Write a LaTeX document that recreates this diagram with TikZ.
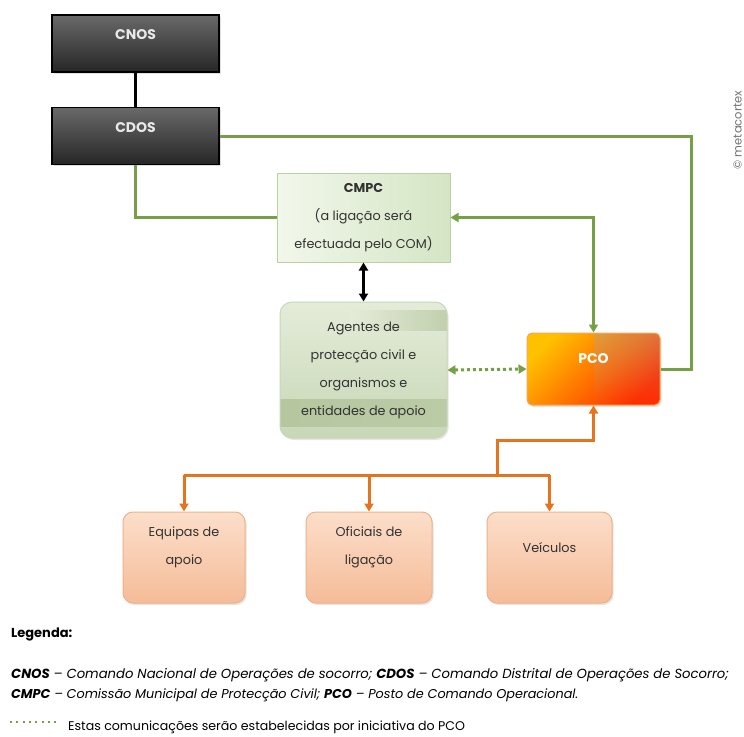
\documentclass[tikz,border=0pt]{standalone}
\usepackage{fontspec}
\setmainfont{Poppins}
\usetikzlibrary{arrows.meta,shadows,calc,fadings}
\definecolor{gline}{RGB}{118,160,70}
\definecolor{oline}{RGB}{230,115,30}
\definecolor{dtop}{RGB}{105,105,105}
\definecolor{dbot}{RGB}{38,38,38}
\definecolor{cmpcl}{RGB}{242,247,235}
\definecolor{cmpcr}{RGB}{212,229,196}
\definecolor{cmpcb}{RGB}{185,210,160}
\definecolor{agtop}{RGB}{228,236,217}
\definecolor{agbot}{RGB}{200,215,182}
\definecolor{agbd}{RGB}{200,215,185}
\definecolor{agband}{RGB}{170,188,145}
\definecolor{pcoa}{RGB}{255,192,0}
\definecolor{pcob}{RGB}{255,45,0}
\definecolor{pcobd}{RGB}{245,170,90}
\definecolor{saltop}{RGB}{252,222,202}
\definecolor{salbot}{RGB}{245,188,152}
\definecolor{salbd}{RGB}{236,178,138}
\definecolor{txt}{RGB}{50,50,50}
\definecolor{ltxt}{RGB}{232,232,232}
\tikzset{
  darkbox/.style={draw=black, line width=1.2pt, top color=dtop, bottom color=dbot,
    minimum width=167pt, minimum height=57pt,
    drop shadow={shadow xshift=1.5pt, shadow yshift=-1.5pt, opacity=0.25}},
  darklbl/.style={text=ltxt, font=\fontsize{14}{16}\selectfont\bfseries},
  cmpcbox/.style={draw=cmpcb, line width=1pt, left color=cmpcl, right color=cmpcr,
    minimum width=173pt, minimum height=89pt},
  agbox/.style={draw=agbd, line width=1pt, top color=agtop, bottom color=agbot,
    rounded corners=12pt, minimum width=167pt, minimum height=136pt,
    drop shadow={shadow xshift=1.5pt, shadow yshift=-2pt, opacity=0.2},
    path picture={
      \shade[sharp corners, left color=agband!60!agbot, right color=agband!45!agbot]
        ($(path picture bounding box.north west)+(0,97)$) rectangle
        ($(path picture bounding box.north east)+(0,124)$);
      \shade[sharp corners, left color=agtop, right color=agband!60!agtop]
        ($(path picture bounding box.north west)+(70,8)$) rectangle
        ($(path picture bounding box.north east)+(0,28)$);
    }},
  pcobox/.style={draw=pcobd, line width=1pt, top color=pcoa, bottom color=pcob, shading angle=45,
    rounded corners=5pt, minimum width=133pt, minimum height=72pt,
    drop shadow={shadow xshift=1.5pt, shadow yshift=-2pt, opacity=0.2},
    path picture={
      \fill[sharp corners, gray!70, opacity=0.35, path fading=south]
        (path picture bounding box.north) rectangle (path picture bounding box.south east);
    }},
  salbox/.style={draw=salbd, line width=1pt, top color=saltop, bottom color=salbot,
    rounded corners=10pt, minimum height=91pt,
    drop shadow={shadow xshift=1.5pt, shadow yshift=-2pt, opacity=0.2}},
  boxtxt/.style={text=txt, align=center, font=\fontsize{12.8}{28}\selectfont},
  gconn/.style={draw=gline, line width=3pt},
  oconn/.style={draw=oline, line width=3pt},
  kconn/.style={draw=black, line width=3pt},
  tip/.style={-{Triangle[length=8pt,width=9pt]}},
  dtip/.style={{Triangle[length=8pt,width=9pt]}-{Triangle[length=8pt,width=9pt]}},
  legtxt/.style={text=black, anchor=base west, inner sep=0pt},
}
\begin{document}
\begin{tikzpicture}[x=1pt,y=-1pt]
\useasboundingbox (0,0) rectangle (744,736);
\fill[white] (0,0) rectangle (744,736);

% boxes
\node[darkbox, label={[darklbl, yshift=8.5pt]center:CNOS}] (cnos) at (135.5,43.5) {};
\node[darkbox, label={[darklbl, yshift=8.5pt]center:CDOS}] (cdos) at (135.5,136) {};
\node[cmpcbox, boxtxt] (cmpc) at (363.5,217.5) {\textbf{CMPC}\\(a ligação será\\efectuada pelo COM)};
\node[agbox, boxtxt] (ag) at (363.5,370) {Agentes de\\protecção civil e\\organismos e\\entidades de apoio};
\node[pcobox, label={[darklbl, text=white, yshift=10pt]center:PCO}] (pco) at (593.5,369) {};
\node[salbox, minimum width=122pt, label={[boxtxt, yshift=10pt]center:Equipas de\\apoio}] (eq) at (184,557.5) {};
\node[salbox, minimum width=126pt, label={[boxtxt, yshift=10pt]center:Oficiais de\\ligação}] (of) at (369,557.5) {};
\node[salbox, minimum width=125pt, label={[boxtxt, yshift=10pt]center:Veículos}] (ve) at (549.5,557.5) {};

% coordinates
\coordinate (rt) at (691,0);
\coordinate (j) at (497,475);
\coordinate (oj) at (497,440);

% connectors
\draw[kconn] (cnos.south) -- (cdos.north);
\draw[gconn] (cdos.east) -| (rt |- pco.east) -- (pco.east);
\draw[gconn] (cdos.south) |- (cmpc.west);
\draw[gconn, dtip] (cmpc.east) -| (pco.north);
\draw[kconn, dtip] (cmpc.south) -- (ag.north);
\draw[gline, line width=3pt, dash pattern=on 3pt off 3pt, dtip] (ag.east) -- (pco.west);
\draw[oconn, tip] (j) -- (oj) -| (pco.south);
\draw[oconn] (eq.north |- j) -- (ve.north |- j);
\draw[oconn, tip] (eq.north |- j) -- (eq.north);
\draw[oconn, tip] (of.north |- j) -- (of.north);
\draw[oconn, tip] (ve.north |- j) -- (ve.north);

% copyright
\node[rotate=90, text=gray!90!black, font=\fontsize{11.5}{13}\selectfont, inner sep=0pt] (copy) at (737.5,130) {© metacortex};

% legend
\node[legtxt, font=\fontsize{13}{15}\selectfont\bfseries] (leg) at (11,637) {Legenda:};
\node[legtxt, font=\fontsize{13.2}{15}\selectfont\itshape] (l1) at (11,678) {\textbf{CNOS} – Comando Nacional de Operações de socorro; \textbf{CDOS} – Comando Distrital de Operações de Socorro;};
\node[legtxt, font=\fontsize{12.8}{15}\selectfont\itshape] (l2) at (11,698) {\textbf{CMPC} – Comissão Municipal de Protecção Civil; \textbf{PCO} – Posto de Comando Operacional.};
\coordinate (d1) at (10,722);
\coordinate (d2) at (60,722);
\draw[gline, line width=2.5pt, dash pattern=on 2pt off 4.3pt] (d1) -- (d2);
\node[legtxt, font=\fontsize{12.6}{15}\selectfont] (l3) at (68,730) {Estas comunicações serão estabelecidas por iniciativa do PCO};
\end{tikzpicture}
\end{document}
